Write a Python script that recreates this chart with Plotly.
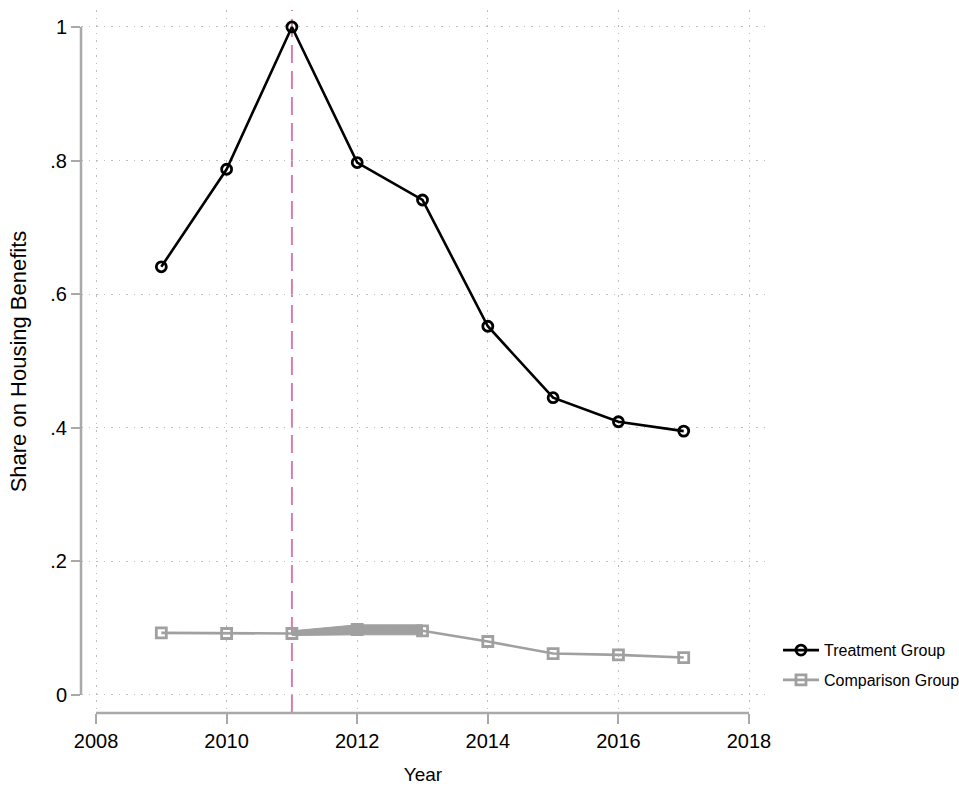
import plotly.graph_objects as go

# Survey years
years = [2009, 2010, 2011, 2012, 2013, 2014, 2015, 2016, 2017]

# Share of households on housing benefits, by group
treatment = [0.641, 0.787, 1.000, 0.797, 0.741, 0.552, 0.445, 0.409, 0.395]
comparison = [0.093, 0.092, 0.092, 0.098, 0.096, 0.080, 0.062, 0.060, 0.056]

# Spread of the overlapping comparison observations in 2011-2013
spread_years = [2011, 2012, 2013]
spread_low = [0.089, 0.090, 0.090]
spread_high = [0.096, 0.105, 0.105]

# Reform year
reform_year = 2011

x_ticks = [2008, 2010, 2012, 2014, 2016, 2018]
y_ticks = [0, 0.2, 0.4, 0.6, 0.8, 1.0]
y_tick_labels = ["0", ".2", ".4", ".6", ".8", "1"]

FONT = "Liberation Sans, Arial, sans-serif"
AXIS_GREY = "#a9a9a9"
GRID_GREY = "#bdbdbd"
COMP_GREY = "#a0a0a0"

fig = go.Figure()

# Band formed by the overlapping comparison observations
fig.add_trace(go.Scatter(
    x=spread_years + spread_years[::-1],
    y=spread_high + spread_low[::-1],
    fill="toself", fillcolor=COMP_GREY, mode="lines",
    line=dict(color=COMP_GREY, width=1),
    showlegend=False, hoverinfo="skip",
))

fig.add_trace(go.Scatter(
    x=years, y=treatment, name="Treatment Group", legendgroup="t",
    mode="lines+markers",
    line=dict(color="black", width=2.6),
    marker=dict(symbol="circle-open", size=10, color="black", line=dict(width=2.8)),
))

fig.add_trace(go.Scatter(
    x=years, y=comparison, name="Comparison Group", legendgroup="c",
    mode="lines+markers",
    line=dict(color=COMP_GREY, width=2.6),
    marker=dict(symbol="square-open", size=10, color=COMP_GREY, line=dict(width=2.8)),
))

# Reform marker line
fig.add_shape(type="line", xref="x", yref="paper",
              x0=reform_year, x1=reform_year, y0=0, y1=1,
              line=dict(color="#d081ae", width=2, dash="18px,8px"), layer="below")

# Axis lines spanning only the labelled range
fig.add_shape(type="line", xref="x", yref="paper",
              x0=x_ticks[0], x1=x_ticks[-1], y0=0, y1=0,
              line=dict(color=AXIS_GREY, width=2.5))
fig.add_shape(type="line", xref="paper", yref="y",
              x0=0, x1=0, y0=y_ticks[0], y1=y_ticks[-1],
              line=dict(color=AXIS_GREY, width=2.5))

fig.update_layout(
    width=959, height=789,
    margin=dict(l=81, r=194, t=10, b=76, autoexpand=False),
    plot_bgcolor="white", paper_bgcolor="white",
    font=dict(family=FONT, color="black"),
    showlegend=True,
    legend=dict(
        x=1.019, y=0.068, xanchor="left", yanchor="middle",
        font=dict(family=FONT, size=16, color="black"),
        bgcolor="rgba(0,0,0,0)", tracegroupgap=6, itemwidth=36,
    ),
)

fig.update_xaxes(
    range=[2007.77, 2018.245],
    tickvals=x_ticks,
    ticks="outside", ticklen=10, tickwidth=2, tickcolor=AXIS_GREY,
    tickfont=dict(family=FONT, size=20),
    showline=False, zeroline=False,
    showgrid=True, gridcolor=GRID_GREY, gridwidth=1, griddash="1.5px,6px",
    title=dict(text="Year", font=dict(family=FONT, size=19), standoff=16),
)

fig.update_yaxes(
    range=[-0.027, 1.0254],
    tickvals=y_ticks, ticktext=y_tick_labels,
    ticks="outside", ticklen=9, tickwidth=2, tickcolor=AXIS_GREY,
    tickfont=dict(family=FONT, size=20),
    showline=False, zeroline=False,
    showgrid=True, gridcolor=GRID_GREY, gridwidth=1, griddash="1.5px,6px",
    title=dict(text="Share on Housing Benefits", font=dict(family=FONT, size=22), standoff=17),
)

fig.write_html("out.html")
